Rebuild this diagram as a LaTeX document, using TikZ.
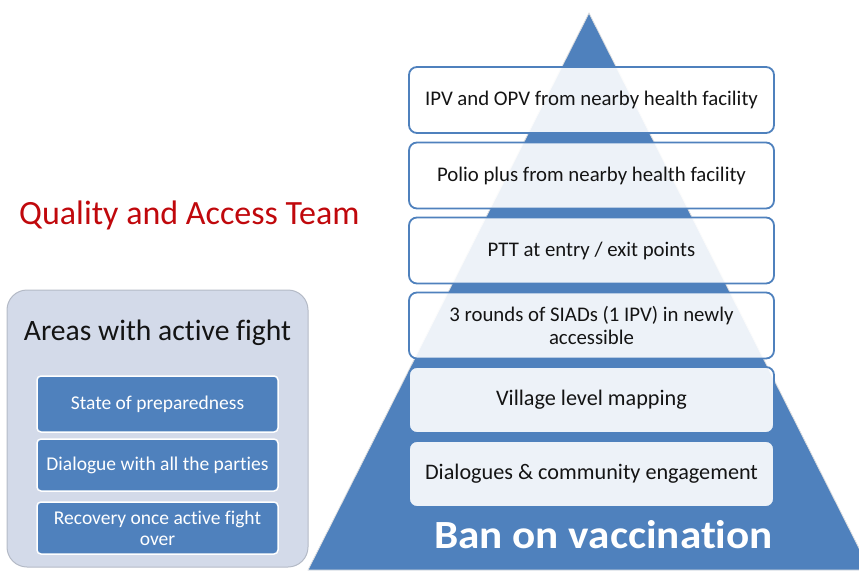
\documentclass[tikz,border=0pt]{standalone}
\usepackage{fontspec}
\setmainfont{Carlito}[Ligatures=NoCommon]
\definecolor{pblue}{RGB}{79,129,189}
\definecolor{panel}{RGB}{211,218,233}
\definecolor{panelline}{RGB}{180,186,198}
\definecolor{qred}{RGB}{192,8,12}
\definecolor{txt}{RGB}{20,20,20}
\tikzset{
  tier/.style={draw=pblue, line width=1.8pt, fill=white, fill opacity=0.9, text opacity=1,
    rounded corners=8pt, minimum width=365pt, minimum height=66pt, inner sep=0pt,
    text=txt, font=\fontsize{20.8}{23}\selectfont, align=center},
  fightbox/.style={draw=white, line width=1.5pt, fill=pblue, rounded corners=4pt,
    minimum width=241pt, inner sep=0pt, text=white, font=\fontsize{19.5}{21}\selectfont, align=center},
}
\begin{document}
\begin{tikzpicture}[x=1pt,y=-1pt]
\useasboundingbox (0,0) rectangle (859,572);
% pyramid
\coordinate (apex) at (589,13);
\coordinate (bl) at (308,570);
\coordinate (br) at (870,570);
\begin{scope}
\clip (0,0) rectangle (859,572);
\fill[pblue, draw=white!75!gray, line width=0.8pt] (apex) -- (bl) -- (br) -- cycle;
\end{scope}
% tiers
\node[tier] (t1) at (591.5,100) {IPV and OPV from nearby health facility};
\node[tier] (t2) at (591.5,175.5) {Polio plus from nearby health facility};
\node[tier] (t3) at (591.5,250.5) {PTT at entry / exit points};
\node[tier] (t4) at (591.5,325.5) {3 rounds of SIADs (1 IPV) in newly\\accessible};
\node[tier, font=\fontsize{22.2}{25}\selectfont] (t5) at (591.5,400) {Village level mapping};
\node[tier, font=\fontsize{22.2}{25}\selectfont] (t6) at (591.5,474) {Dialogues \& community engagement};
\node[anchor=base west, inner sep=0pt, text=white, font=\fontsize{40}{44}\selectfont\bfseries] (ban) at (434,548) {\scalebox{1.08}[1]{Ban on vaccination}};
% title
\node[anchor=base west, inner sep=0pt, text=qred, font=\fontsize{34}{38}\selectfont] (qat) at (19,225) {Quality and Access Team};
% left panel
\node[draw=panelline, line width=1pt, fill=panel, rounded corners=20pt, minimum width=301pt, minimum height=277pt, inner sep=0pt] (pan) at (157.5,428.5) {};
\node[anchor=base, inner sep=0pt, text=txt, font=\fontsize{29.6}{32}\selectfont] (aw) at (157.5,340) {Areas with active fight};
\node[fightbox, minimum height=56pt] (f1) at (157.5,404) {State of preparedness};
\node[fightbox, minimum height=52pt] (f2) at (157.5,465) {Dialogue with all the parties};
\node[fightbox, minimum height=52pt] (f3) at (157.5,528) {Recovery once active fight\\over};
\end{tikzpicture}
\end{document}
